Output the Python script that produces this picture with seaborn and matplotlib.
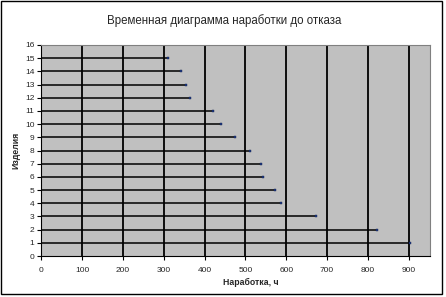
import matplotlib
matplotlib.use("Agg")
import matplotlib.pyplot as plt
import seaborn as sns
import pandas as pd
from matplotlib.patches import Rectangle

items = list(range(1, 16))
hours = [904, 822, 673, 587, 572, 544, 537, 510, 475, 441, 421, 364, 355, 342, 310]
x_ticks = [0, 100, 200, 300, 400, 500, 600, 700, 800, 900]
y_ticks = list(range(0, 17))

sns.set_theme(style="white")
plt.rcParams['font.family'] = ['Liberation Sans', 'DejaVu Sans']

rows = []
for it, h in zip(items, hours):
    rows.append({"item": it, "x": 0, "y": it})
    rows.append({"item": it, "x": h, "y": it})
df = pd.DataFrame(rows)
ends = pd.DataFrame({"x": hours, "y": items})

fig = plt.figure(figsize=(4.46, 2.97), dpi=100)
fig.patch.set_facecolor("white")
fig.patches.append(Rectangle((0.003, 0.01), 0.989, 0.985, transform=fig.transFigure,
                             fill=False, edgecolor="black", linewidth=1.0))
ax = fig.add_axes([0.0926, 0.138, 0.8715, 0.7105])
ax.set_facecolor("#c0c0c0")

for xv in x_ticks[1:]:
    ax.axvline(xv, color="black", linewidth=1.3, zorder=1)

sns.lineplot(data=df, x="x", y="y", units="item", estimator=None, sort=False,
             color="black", linewidth=1.1, ax=ax, legend=False, zorder=2)
sns.scatterplot(data=ends, x="x", y="y", marker="s", s=2.5, color="#1f3a8a",
                edgecolor="#10204a", linewidth=0.3, ax=ax, zorder=3, legend=False)

ax.set_xlim(0, 952)
ax.set_ylim(0, 16)
ax.set_xticks(x_ticks)
ax.set_yticks(y_ticks)
ax.tick_params(axis="both", labelsize=6, length=3, width=0.8, color="black",
               direction="out", pad=2)
ax.tick_params(axis="x", pad=5)
ax.xaxis.set_ticks_position("bottom")
ax.yaxis.set_ticks_position("left")
for side in ["top", "right"]:
    ax.spines[side].set_color("#808080")
    ax.spines[side].set_linewidth(0.8)
for side in ["left", "bottom"]:
    ax.spines[side].set_color("black")
    ax.spines[side].set_linewidth(0.8)

ax.set_xlabel("Наработка, ч", fontsize=6.3, fontweight="bold")
ax.set_ylabel("Изделия", fontsize=6.3, fontweight="bold")
ax.xaxis.set_label_coords(0.54, -0.105)
ax.yaxis.set_label_coords(-0.055, 0.5)
fig.text(0.502, 0.93, "Временная диаграмма наработки до отказа", ha="center",
         va="center", fontsize=8.3)

fig.savefig("out.png", dpi=100)
